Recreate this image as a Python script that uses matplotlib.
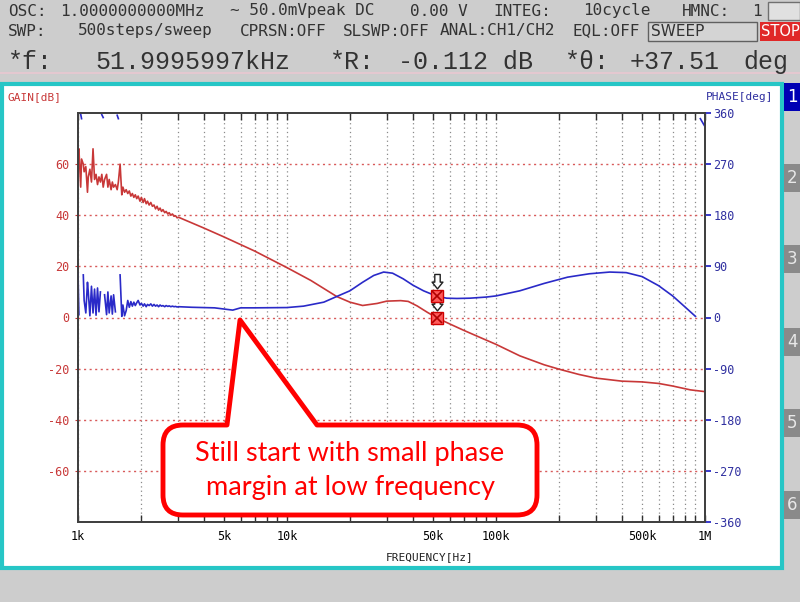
import numpy as np
import matplotlib
matplotlib.use("Agg")
import matplotlib.pyplot as plt
from matplotlib.patches import Rectangle, PathPatch
from matplotlib.path import Path
from matplotlib.ticker import FixedLocator, NullFormatter
from matplotlib.transforms import offset_copy

plt.rcParams["axes.unicode_minus"] = False

# ---- sweep readings (frequency in kHz) ----
# noisy low-frequency part, same frequencies for gain and phase
freq_noisy = [1.00, 1.01, 1.03, 1.04, 1.06, 1.07, 1.09, 1.11, 1.12, 1.14, 1.16, 1.18,
              1.20, 1.22, 1.24, 1.26, 1.28, 1.30, 1.32, 1.34, 1.37, 1.39, 1.41, 1.44,
              1.46, 1.48, 1.51, 1.54, 1.56, 1.59, 1.62, 1.64, 1.67, 1.70, 1.73, 1.76,
              1.79, 1.82, 1.85, 1.88, 1.91, 1.94, 1.98, 2.01, 2.05, 2.08, 2.12, 2.15,
              2.19, 2.23, 2.27, 2.31, 2.35, 2.39, 2.43, 2.47, 2.51, 2.55, 2.60, 2.64,
              2.69, 2.73, 2.78, 2.83, 2.88, 2.93, 2.98, 3.03]
gain_noisy = [61, 66, 51, 62, 60, 57, 59, 49, 55, 58, 53, 66,
              54, 56, 52, 55, 53, 56, 51, 54, 56, 51, 54, 50,
              53, 51, 52, 50, 53, 60, 48, 51, 49, 50, 48.5, 49.5,
              47.5, 48.5, 47, 48, 46.5, 47.5, 45.5, 47, 45, 46.5, 44.5, 45.5,
              44, 45, 43.5, 44, 42.5, 43.5, 42, 42.8, 41.5, 42.2, 41, 41.5,
              40.5, 41, 40, 40.5, 39.6, 39.8, 39, 39.2]
phase_noisy = [78, 5, -2, -10, 75, 30, 8, 62, 45, 3, 55, 8,
               50, 4, 52, 10, 45, -3, -8, 40, 5, 45, 8, 38,
               6, 40, 10, -4, -10, 75, 2, 22, 3, 12, 30, 18,
               28, 20, 27, 21, 26, 30, 22, 25, 20, 24, 19, 23,
               21, 24, 20, 23, 20, 22, 19, 22, 20, 21, 19, 21,
               19.5, 20.5, 19, 20, 19, 19.5, 18.5, 19]

freq_gain = [4, 5, 7, 10, 13, 17.3, 20, 23, 27, 30, 35, 38, 42, 47, 52, 60, 70, 85,
             100, 130, 170, 200, 250, 300, 400, 500, 600, 700, 850, 1000]
gain_smooth = [35, 31.5, 26, 19.5, 14.5, 8.2, 6, 4.7, 5.5, 6.4, 6.6, 6.3, 4.5, 2, -0.1,
               -2.5, -5, -8, -10.5, -15, -18.5, -20.2, -22.3, -23.7, -24.9, -25.2,
               -25.8, -26.8, -28.3, -29]

freq_phase = [3.5, 4.5, 5.5, 6, 7, 10, 12, 15, 17.3, 20, 23, 26, 29, 32, 36, 40, 45,
              52, 58, 65, 75, 90, 100, 130, 170, 220, 280, 350, 420, 500, 600, 700,
              800, 900, 950, 1000]
phase_smooth = [18, 17, 13, 17, 17, 17.5, 20, 27, 37, 47, 62, 74, 80, 78, 68, 57, 47,
                37.5, 34, 33.5, 34, 36, 38, 47, 60, 71, 77, 80, 79, 72, 56, 38,
                19, 2, -10, -24]

marker_freq = 51.9995997  # kHz
marker_gain = -0.112
marker_phase = 37.51

gain_ticks = [-60, -40, -20, 0, 20, 40, 60]
phase_ticks = [-360, -270, -180, -90, 0, 90, 180, 270, 360]
freq_ticks = [1, 5, 10, 50, 100, 500, 1000]
freq_labels = ["1k", "5k", "10k", "50k", "100k", "500k", "1M"]

GAIN_C = "#c83838"
PHASE_C = "#2a2ac8"
MONO = "DejaVu Sans Mono"


def P(x, y):
    # screen pixel -> figure fraction
    return x / 800, 1 - y / 602


def wrap(freqs, ph):
    # instrument shows phase in 0..360 when it drops below zero, no line across
    xs, ys, prev = [], [], None
    for f, p in zip(freqs, ph):
        v = p + 360 if p < 0 else p
        if prev is not None and abs(v - prev) > 180:
            xs.append(np.nan)
            ys.append(np.nan)
        xs.append(f * 1000)
        ys.append(v)
        prev = v
    return xs, ys


fig = plt.figure(figsize=(8, 6.02), dpi=100, facecolor="#cdcdcd")

# white panel with turquoise border
x0, y0 = P(2, 568)
x1, y1 = P(782, 84)
fig.add_artist(Rectangle((x0, y0), x1 - x0, y1 - y0, transform=fig.transFigure,
                         fc="white", ec="#26c6c6", lw=3, zorder=-5))
lx, ly = P(0, 73)
fig.add_artist(plt.Line2D([0, 1], [ly, ly], transform=fig.transFigure,
                          color="#e4c8d0", lw=1.5))

# ---- header ----
hc = "#333333"
row1 = [(8, "OSC:"), (60, "1.0000000000MHz"), (230, "\u223c 50.0mVpeak DC"),
        (410, "0.00 V"), (493, "INTEG:"), (583, "10cycle"), (682, "HMNC:"), (752, "1")]
for x, s in row1:
    fig.text(*P(x, 11), s, ha="left", va="center", fontsize=11.5, family=MONO, color=hc)
row2 = [(8, "SWP:"), (78, "500steps/sweep"), (240, "CPRSN:OFF"), (343, "SLSWP:OFF"),
        (440, "ANAL:CH1/CH2"), (573, "EQL:OFF")]
for x, s in row2:
    fig.text(*P(x, 31), s, ha="left", va="center", fontsize=11.5, family=MONO, color=hc)
row3 = [(8, "*f:"), (95, "51.9995997kHz"), (330, "*R:"), (398, "-0.112 dB"),
        (565, "*\u03b8:"), (630, "+37.51"), (743, "deg")]
for x, s in row3:
    fig.text(*P(x, 62), s, ha="left", va="center", fontsize=18, family="Liberation Mono",
             color=hc)

bx, by = P(768, 20)
fig.add_artist(Rectangle((bx, by), 32 / 800, 18 / 602, transform=fig.transFigure,
                         fc="#e0e0e0", ec="#707070", lw=1))
bx, by = P(648, 41)
fig.add_artist(Rectangle((bx, by), 109 / 800, 19 / 602, transform=fig.transFigure,
                         fc="#d4d4d4", ec="#606060", lw=1))
fig.text(*P(651, 31), "SWEEP", ha="left", va="center", fontsize=11, color="#333333")
bx, by = P(760, 41)
fig.add_artist(Rectangle((bx, by), 40 / 800, 19 / 602, transform=fig.transFigure,
                         fc="#e02828", ec="none"))
fig.text(*P(780, 31), "STOP", ha="center", va="center", fontsize=10.5, color="white")

# side tabs
tab_y = [97, 178, 259, 342, 423, 505]
for i, ty in enumerate(tab_y):
    bx, by = P(784, ty + 14)
    fig.add_artist(Rectangle((bx, by), 16 / 800, 28 / 602, transform=fig.transFigure,
                             fc="#0000b4" if i == 0 else "#8a8a8a", ec="none"))
    fig.text(*P(792, ty), str(i + 1), ha="center", va="center", fontsize=12,
             color="white" if i == 0 else "#e8e8e8")

# ---- plot ----
ax = fig.add_axes([78 / 800, 80 / 602, 627 / 800, 409 / 602])
ax2 = ax.twinx()

ax.plot([f * 1000 for f in freq_noisy] + [f * 1000 for f in freq_gain],
        gain_noisy + gain_smooth, color=GAIN_C, lw=1.2)
px, py = wrap(freq_noisy + freq_phase, phase_noisy + phase_smooth)
ax2.plot(px, py, color=PHASE_C, lw=1.2)

ax.set_xscale("log")
ax.set_xlim(1e3, 1e6)
ax.set_ylim(-80, 80)
ax2.set_ylim(-360, 360)

ax.xaxis.set_major_locator(FixedLocator([f * 1000 for f in freq_ticks]))
ax.set_xticklabels(freq_labels)
ax.xaxis.set_minor_locator(FixedLocator([m * 10 ** k for k in (3, 4, 5)
                                         for m in (2, 3, 4, 6, 7, 8, 9)]))
ax.xaxis.set_minor_formatter(NullFormatter())
ax.tick_params(axis="x", which="both", direction="in", top=True, bottom=True,
               length=5, width=1, color="#303030", pad=6, labelsize=8.5)
for lab in ax.get_xticklabels():
    lab.set_family(MONO)

ax.set_yticks(gain_ticks)
ax.tick_params(axis="y", length=2, color=GAIN_C, labelcolor=GAIN_C, pad=4, labelsize=8.5)
for lab in ax.get_yticklabels():
    lab.set_family(MONO)
ax2.set_yticks(phase_ticks)
ax2.tick_params(axis="y", length=4, width=1.3, color=PHASE_C, labelcolor="#3030a0",
                pad=2, labelsize=8.5)
for lab in ax2.get_yticklabels():
    lab.set_family(MONO)

ax.grid(axis="x", which="both", color="#8a8a8a", linestyle=(0, (1, 2.5)), lw=0.9)
ax.grid(axis="y", color="#d85a5a", linestyle=(0, (1.5, 2.5)), lw=1.0)
ax.set_axisbelow(True)
for a in (ax, ax2):
    for sp in a.spines.values():
        sp.set_color("#404040")
        sp.set_linewidth(1.3)

# markers at the cursor frequency
arrow = Path([(-0.3, 1.0), (0.3, 1.0), (0.3, 0.15), (0.6, 0.15), (0.0, -0.6),
              (-0.6, 0.15), (-0.3, 0.15), (-0.3, 1.0)],
             [Path.MOVETO] + [Path.LINETO] * 6 + [Path.CLOSEPOLY])
mf = marker_freq * 1000
for a, val in ((ax2, marker_phase), (ax, marker_gain)):
    a.plot([mf], [val], marker="s", ms=9, mfc="#ff5a5a", mec="#d00000", mew=1, zorder=5)
    a.plot([mf], [val], marker="x", ms=7, mec="#b00000", mew=1.2, zorder=6)
    tr = offset_copy(a.transData, fig=fig, x=0, y=13, units="dots")
    a.plot([mf], [val], marker=arrow, ms=13, mfc="white", mec="#202020", mew=1,
           transform=tr, zorder=6)

fig.text(*P(8, 97), "GAIN[dB]", ha="left", va="center", fontsize=8, family=MONO,
         color=GAIN_C)
fig.text(*P(773, 97), "PHASE[deg]", ha="right", va="center", fontsize=8, family=MONO,
         color="#3030a0")
fig.text(*P(430, 557), "FREQUENCY[Hz]", ha="center", va="center", fontsize=8,
         family=MONO, color="#202020")

# ---- callout ----
L, R, T, B, r = 163, 537, 425, 515, 20
pts = [(L + r, T), (227, T), (240, 320), (317, T), (R - r, T), (R, T), (R, T + r),
       (R, B - r), (R, B), (R - r, B), (L + r, B), (L, B), (L, B - r), (L, T + r),
       (L, T), (L + r, T), (L + r, T)]
codes = [Path.MOVETO, Path.LINETO, Path.LINETO, Path.LINETO, Path.LINETO,
         Path.CURVE3, Path.CURVE3, Path.LINETO, Path.CURVE3, Path.CURVE3,
         Path.LINETO, Path.CURVE3, Path.CURVE3, Path.LINETO, Path.CURVE3,
         Path.CURVE3, Path.CLOSEPOLY]
callout = Path([P(x, y) for x, y in pts], codes)
fig.add_artist(PathPatch(callout, transform=fig.transFigure, fc="white", ec="#ff0000",
                         lw=3.5, joinstyle="round", zorder=10))
fig.text(*P(350, 470), "Still start with small phase\nmargin at low frequency",
         ha="center", va="center", fontsize=19.5, family="Lato", color="#ff0000",
         linespacing=1.45, zorder=11)

fig.savefig("out.png", dpi=100, facecolor=fig.get_facecolor())
